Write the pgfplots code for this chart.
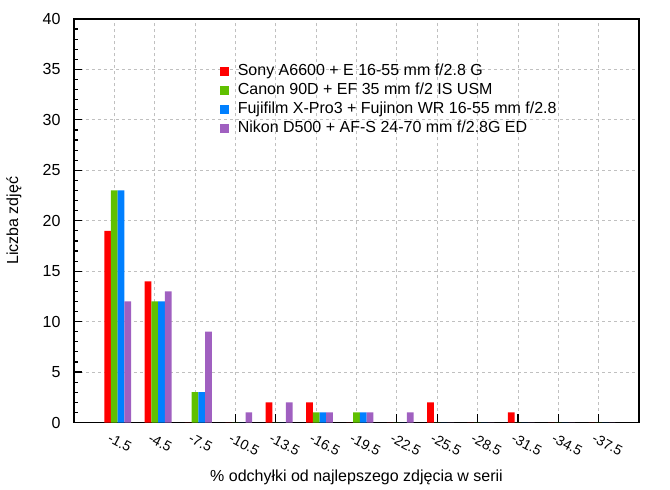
\documentclass[border=0pt]{standalone}
\usepackage{fontspec}
\setmainfont{Liberation Sans}
\usepackage{pgfplots}
\usepackage{pgfplotstable}
\pgfplotsset{compat=1.18}

\definecolor{sony}{RGB}{255,0,0}
\definecolor{canon}{RGB}{96,192,0}
\definecolor{fuji}{RGB}{0,128,255}
\definecolor{nikon}{RGB}{160,96,192}
\definecolor{gridgray}{RGB}{192,192,192}

% liczba zdjec w przedziale odchylki
\pgfplotstableread{
x  sony canon fuji nikon
0  19   23    23   12
1  14   12    12   13
2  0    3     3    9
3  0    0     0    1
4  2    0     0    2
5  2    1     1    1
6  0    1     1    1
7  0    0     0    1
8  2    0     0    0
9  0    0     0    0
10 1    0     0    0
11 0    0     0    0
12 0    0     0    0
}\hist

\pgfplotsset{
  sq legend/.style={legend image code/.code={\fill[##1] (0pt,-4.5pt) rectangle (9pt,4.5pt);}},
  histbar/.style={ybar, bar width=0.1667, draw=none, sq legend},
}

\begin{document}
\fontsize{16}{19}\selectfont
\begin{tikzpicture}
\path[use as bounding box] (-74pt,-67.5pt) rectangle (596pt,422.5pt);
\begin{axis}[
  at={(0,0)}, anchor=south west,
  scale only axis, width=565pt, height=403.5pt,
  xmin=-1, xmax=13, ymin=0, ymax=40,
  xtick={0,...,12},
  xticklabels={-1.5,-4.5,-7.5,-10.5,-13.5,-16.5,-19.5,-22.5,-25.5,-28.5,-31.5,-34.5,-37.5},
  ytick={0,5,...,40},
  minor y tick num=4,
  tick align=inside,
  xtick pos=bottom, ytick pos=left,
  major tick length=8pt, minor tick length=4.5pt,
  grid=major,
  major grid style={gridgray, dash pattern=on 3pt off 3pt, line width=0.8pt},
  axis line style={line width=1.2pt},
  every tick/.style={black, line width=1.2pt},
  /pgf/number format/assume math mode=true,
  yticklabel style={font=\fontsize{16}{19}\selectfont, xshift=-8pt},
  xticklabel style={font=\fontsize{14}{16}\selectfont, inner sep=0pt,
    xshift=-3pt, yshift=-10pt, rotate=-28, anchor=north west},
  xlabel={\% odchyłki od najlepszego zdjęcia w serii},
  ylabel={Liczba zdjęć},
  every axis x label/.style={at={(axis description cs:0.5,-0.136)}, anchor=center},
  every axis y label/.style={at={(axis description cs:-0.1062,0.5)}, rotate=90, anchor=center},
  legend cell align=left,
  legend style={draw=none, fill=none, inner sep=0pt,
    at={(axis description cs:0.2577,0.892)}, anchor=north west,
    row sep=2.2pt, nodes={inner sep=1pt, text height=11.5pt, text depth=3.5pt},
    font=\fontsize{16}{19}\selectfont,
    /tikz/every odd column/.append style={column sep=8pt}},
]
\addplot[histbar, bar shift=-0.1667, fill=sony]  table[x=x, y=sony]  {\hist};
\addplot[histbar, bar shift=0,       fill=canon] table[x=x, y=canon] {\hist};
\addplot[histbar, bar shift=0.1667,  fill=fuji]  table[x=x, y=fuji]  {\hist};
\addplot[histbar, bar shift=0.3333,  fill=nikon] table[x=x, y=nikon] {\hist};
\legend{Sony A6600 + E 16-55 mm f/2.8 G,
        Canon 90D + EF 35 mm f/2 IS USM,
        Fujifilm X-Pro3 + Fujinon WR 16-55 mm f/2.8,
        Nikon D500 + AF-S 24-70 mm f/2.8G ED}
\end{axis}
\end{tikzpicture}
\end{document}
